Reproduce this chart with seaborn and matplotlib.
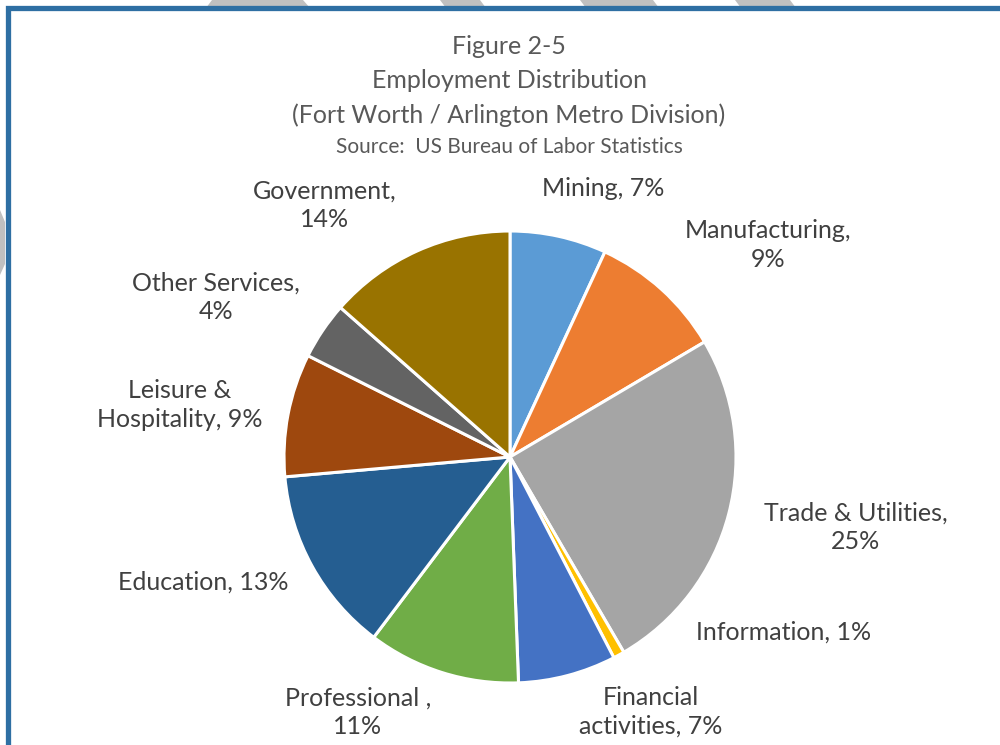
import matplotlib
matplotlib.use('Agg')

import matplotlib.pyplot as plt
import seaborn as sns
from matplotlib.patches import Rectangle, Polygon

# data
sectors = ['Mining', 'Manufacturing', 'Trade & Utilities', 'Information',
           'Financial activities', 'Professional ', 'Education',
           'Leisure & Hospitality', 'Other Services', 'Government']
shares = [6.9, 9.6, 25.1, 0.8, 7.0, 10.9, 13.3, 8.8, 4.1, 13.5]
shown_pct = ['7%', '9%', '25%', '1%', '7%', '11%', '13%', '9%', '4%', '14%']
label_text = ['Mining, 7%', 'Manufacturing,\n9%', 'Trade & Utilities,\n25%',
              'Information, 1%', 'Financial\nactivities, 7%', 'Professional ,\n11%',
              'Education, 13%', 'Leisure &\nHospitality, 9%', 'Other Services,\n4%',
              'Government,\n14%']
colors = ['#5B9BD5', '#ED7D31', '#A5A5A5', '#FFC000', '#4472C4',
          '#70AD47', '#255E91', '#9E480E', '#636363', '#997300']
title_lines = ['Figure 2-5', 'Employment Distribution',
               '(Fort Worth / Arlington Metro Division)']
source_line = 'Source:  US Bureau of Labor Statistics'

# label centres in pixels (layout only)
label_pos = [(603, 189), (768, 245), (856, 527), (784, 632), (651, 712),
             (358, 712), (203, 582), (180, 405), (216, 297), (325, 205)]

sns.set_theme(style='white')
plt.rcParams['font.family'] = ['Lato', 'DejaVu Sans']

W, H = 1000, 745
fig = plt.figure(figsize=(10, 7.45), dpi=100)
ax = fig.add_axes([0, 0, 1, 1])

def py(y):
    return H - y

ax.pie(shares, colors=colors, startangle=90, counterclock=False,
       center=(510, py(457)), radius=226, frame=True,
       wedgeprops=dict(edgecolor='white', linewidth=2.2))
ax.set_xlim(0, W)
ax.set_ylim(0, H)
ax.set_aspect('auto')
ax.axis('off')

# faint gray stripes behind the frame
for pts in [[(212, 0), (303, 0), (310, 8), (206, 8)],
            [(440, 0), (480, 0), (486, 8), (446, 8)],
            [(580, 0), (653, 0), (659, 8), (586, 8)],
            [(735, 0), (790, 0), (796, 8), (741, 8)],
            [(0, 210), (5, 222), (5, 264), (0, 275)]]:
    ax.add_patch(Polygon([(x, py(y)) for x, y in pts], closed=True,
                         facecolor='#C0C0C0', edgecolor='none', zorder=0))

# blue frame
ax.add_patch(Rectangle((8, py(8) - 800), 1100, 800, fill=False,
                       edgecolor='#2E6FA3', linewidth=3.8, zorder=1))

for txt, (x, y) in zip(label_text, label_pos):
    ax.text(x, py(y), txt, ha='center', va='center', fontsize=18,
            color='#404040', linespacing=1.3)

for i, line in enumerate(title_lines):
    ax.text(509, py(47 + 34 * i), line, ha='center', va='center',
            fontsize=18, color='#595959')
ax.text(509, py(147), source_line, ha='center', va='center',
        fontsize=15, color='#595959')

fig.savefig('out.png', dpi=100)
